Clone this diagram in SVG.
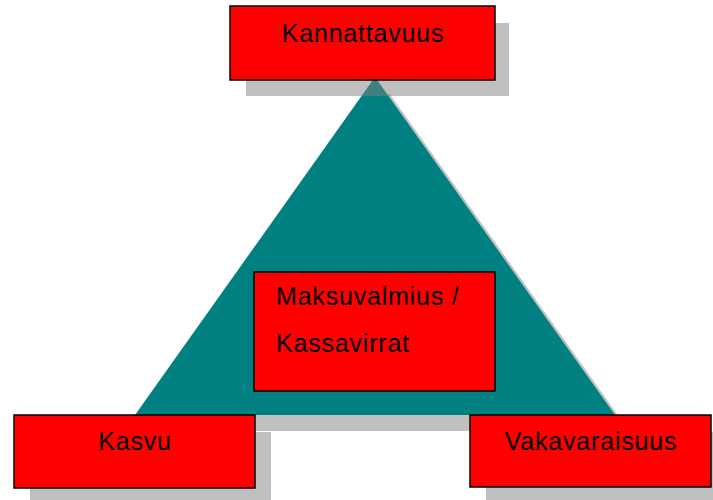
<svg xmlns="http://www.w3.org/2000/svg" width="713" height="500" viewBox="0 0 713 500">
<style>
.sh{fill:#808080;fill-opacity:0.5}
.box{fill:#ff0000;stroke:#000;stroke-width:1.5}
.t{font-family:"Liberation Sans",Arial,sans-serif;font-size:25px;letter-spacing:0.8px;fill:#000}
.c{text-anchor:middle}
</style>
<rect width="713" height="500" fill="#fff"/>
<g id="triangle">
<polygon points="375,77 135,415 615,415" fill="#c0c0c0" transform="translate(14,16)"/>
<polygon points="375,77 135,415 615,415" fill="#008080"/>
</g>
<g id="shadows">
<rect class="sh" x="246" y="23" width="263" height="73"/>
<rect class="sh" x="30" y="432" width="241" height="73"/>
<rect class="sh" x="486" y="432" width="241" height="73"/>
</g>
<g id="kannattavuus">
<rect class="box" x="230" y="6" width="265" height="74"/>
<text class="t c" x="363" y="42">Kannattavuus</text>
</g>
<g id="maksuvalmius">
<rect class="box" x="254" y="272" width="241" height="119"/>
<text class="t" x="276" y="305">Maksuvalmius /</text>
<text class="t" x="276" y="352">Kassavirrat</text>
</g>
<g id="kasvu">
<rect class="box" x="14" y="415" width="241" height="73"/>
<text class="t c" x="135" y="450">Kasvu</text>
</g>
<g id="vakavaraisuus">
<rect class="box" x="470" y="415" width="241" height="72"/>
<text class="t c" x="591" y="450">Vakavaraisuus</text>
</g>
<g id="connectors"></g>
</svg>
